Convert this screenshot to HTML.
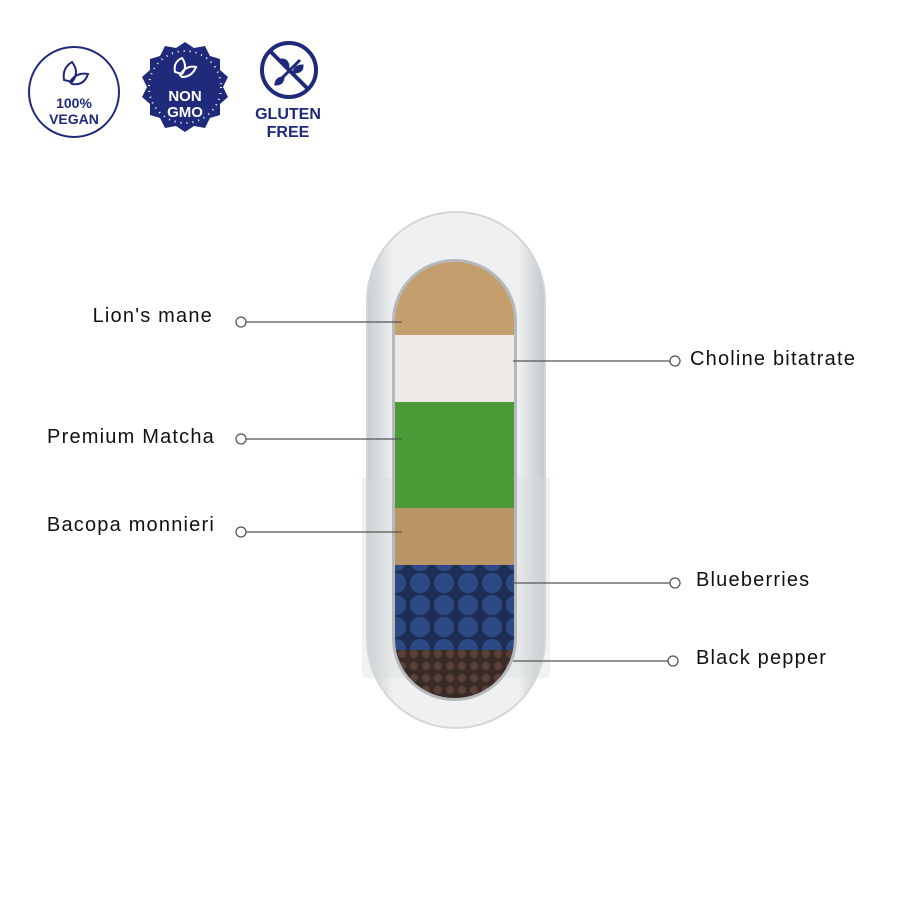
<!DOCTYPE html>
<html><head><style>
body{margin:0;width:900px;height:900px;background:#fff;position:relative;overflow:hidden;font-family:"Liberation Sans",sans-serif}
.l{position:absolute;font-size:20px;letter-spacing:1.2px;color:#111;white-space:nowrap}
</style></head><body>
<svg width="900" height="900" style="position:absolute;left:0;top:0">
<defs>
<clipPath id="inner"><rect x="395" y="262" width="119" height="436" rx="59"/></clipPath>
<linearGradient id="cap" x1="0" x2="1"><stop offset="0" stop-color="#c9cdd0"/><stop offset="0.15" stop-color="#eef0f1"/><stop offset="0.85" stop-color="#eef0f1"/><stop offset="1" stop-color="#c4c8cb"/></linearGradient>
<pattern id="dots" width="12" height="12" patternUnits="userSpaceOnUse"><rect width="12" height="12" fill="#3a2b26"/><circle cx="6" cy="6" r="4" fill="#5a4138"/></pattern>
<pattern id="berries" width="24" height="22" patternUnits="userSpaceOnUse"><rect width="24" height="22" fill="#1e2f55"/><circle cx="12" cy="11" r="10" fill="#2e4a85"/></pattern>
</defs>
<circle cx="74" cy="92" r="45" fill="none" stroke="#1f2a7a" stroke-width="2"/>
<path d="M64 80 q-2-12 8-18 q8 10 0 20 z M70 82 q6-10 18-8 q-4 12 -16 10z" fill="none" stroke="#1f2a7a" stroke-width="2"/>
<text x="74" y="108" text-anchor="middle" font-size="14" font-weight="bold" fill="#1f2a7a">100%</text>
<text x="74" y="124" text-anchor="middle" font-size="14" font-weight="bold" fill="#1f2a7a">VEGAN</text>
<polygon fill="#1f2a7a" points="185,42 194,48 205,46 210,56 220,59 220,70 228,77 223,87 228,97 220,104 220,115 210,118 205,128 194,126 185,132 176,126 165,128 160,118 150,115 150,104 142,97 147,87 142,77 150,70 150,59 160,56 165,46 176,48"/>
<circle cx="185" cy="87" r="36" fill="none" stroke="#fff" stroke-width="2" stroke-dasharray="1 5"/>
<path d="M175 72 q-2-10 7-14 q6 8 0 16 z M180 75 q6-10 16-8 q-4 10 -14 10z" fill="none" stroke="#fff" stroke-width="2"/>
<text x="185" y="101" text-anchor="middle" font-size="15" font-weight="bold" fill="#fff">NON</text>
<text x="185" y="117" text-anchor="middle" font-size="15" font-weight="bold" fill="#fff">GMO</text>
<circle cx="289" cy="70" r="27" fill="none" stroke="#1f2a7a" stroke-width="4"/>
<line x1="270" y1="51" x2="308" y2="89" stroke="#1f2a7a" stroke-width="4"/>
<path d="M278 82 l22 -22 M288 68 q-6-2-6-8 q6 0 6 8z M294 72 q2-6 8-6 q0 6-8 6z M283 78 q-6 0-7 6 q6 0 7-6z" stroke="#1f2a7a" stroke-width="3" fill="#1f2a7a"/>
<text x="288" y="119" text-anchor="middle" font-size="16" font-weight="900" fill="#1f2a7a">GLUTEN</text>
<text x="288" y="137" text-anchor="middle" font-size="16" font-weight="900" fill="#1f2a7a">FREE</text>
<rect x="367" y="212" width="178" height="516" rx="89" fill="url(#cap)" stroke="#d2d6d8" stroke-width="2"/>
<rect x="362" y="478" width="188" height="200" fill="#d8dcde" opacity="0.35"/>
<rect x="392" y="259" width="125" height="442" rx="62" fill="#b5b9bc"/>
<g clip-path="url(#inner)">
<rect x="390" y="255" width="130" height="82" fill="#c49e6d"/>
<rect x="390" y="335" width="130" height="68" fill="#ece9e7"/>
<rect x="390" y="402" width="130" height="107" fill="#4a9a35"/>
<rect x="390" y="508" width="130" height="58" fill="#b89466"/>
<rect x="390" y="565" width="130" height="86" fill="url(#berries)"/>
<rect x="390" y="650" width="130" height="50" fill="url(#dots)"/>
</g>
<g stroke="#555" stroke-width="1.3" fill="#fff">
<line x1="246" y1="322" x2="402" y2="322"/><circle cx="241" cy="322" r="5"/>
<line x1="246" y1="439" x2="402" y2="439"/><circle cx="241" cy="439" r="5"/>
<line x1="246" y1="532" x2="402" y2="532"/><circle cx="241" cy="532" r="5"/>
<line x1="513" y1="361" x2="670" y2="361"/><circle cx="675" cy="361" r="5"/>
<line x1="513" y1="583" x2="670" y2="583"/><circle cx="675" cy="583" r="5"/>
<line x1="513" y1="661" x2="668" y2="661"/><circle cx="673" cy="661" r="5"/>
</g>
</svg>
<div class="l" style="right:687px;top:305px">Lion's mane</div>
<div class="l" style="right:685px;top:426px">Premium Matcha</div>
<div class="l" style="right:685px;top:514px">Bacopa monnieri</div>
<div class="l" style="left:690px;top:348px">Choline bitatrate</div>
<div class="l" style="left:696px;top:569px">Blueberries</div>
<div class="l" style="left:696px;top:647px">Black pepper</div>
</body></html>
